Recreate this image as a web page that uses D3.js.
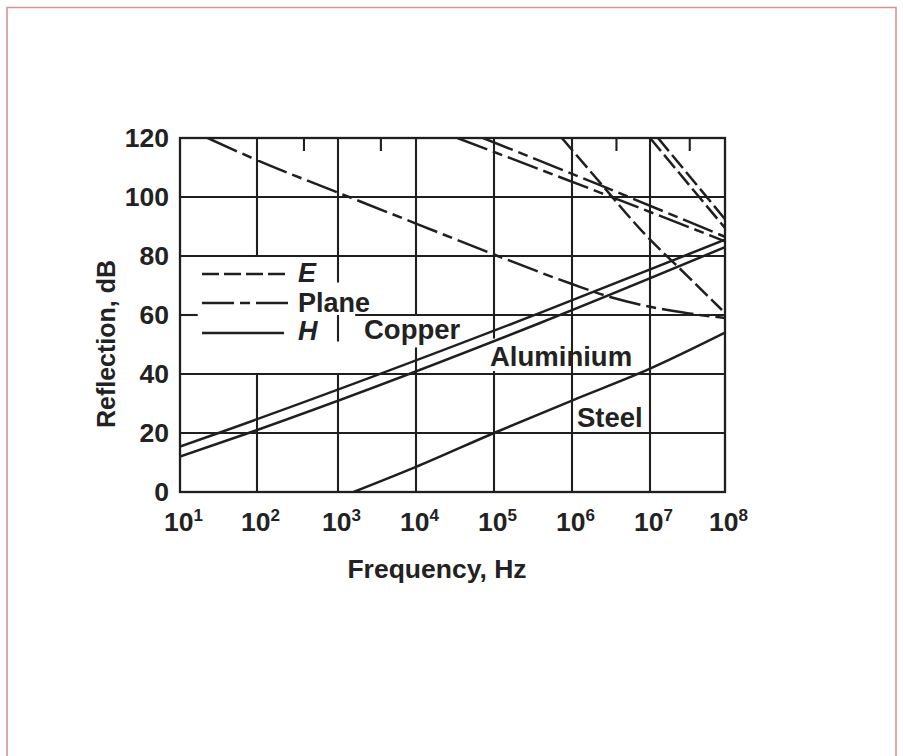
<!DOCTYPE html>
<html>
<head>
<meta charset="utf-8">
<script src="https://cdn.jsdelivr.net/npm/d3@7"></script>
<style>
  body { margin: 0; background: #fff; }
  text { font-family: "Liberation Sans", Arial, sans-serif; font-weight: bold; fill: #222; }
</style>
</head>
<body>
<div class="chart"></div>
<script>
var width = 903, height = 756;

// x = log10(frequency, Hz), y = reflection, dB
var decades = [1, 2, 3, 4, 5, 6, 7, 8];
var dbTicks = [0, 20, 40, 60, 80, 100, 120];
var topTicks = [2.58, 3.55, 6.57, 7.53];

// H (magnetic) field, solid
var copperH = [[1, 15.4], [1.51, 20.1], [5.59, 60.7], [8, 85.5]];
var aluminiumH = [[1, 12], [1.9, 20.1], [5.59, 57.3], [8, 83]];
var steelH = [[3.2, 0], [4, 8.5], [5, 20], [6, 31], [7, 41.8], [8, 54]];

// plane wave
var copperPlane = [[4.86, 120], [6.36, 104], [8, 86.5]];
var aluminiumPlane = [[4.53, 120], [6.36, 101.5], [8, 85]];
var steelPlane = [[1.36, 120], [2, 112.5], [3, 101.5], [4, 91], [5, 80.5], [6, 70.5], [6.5, 66], [7, 62.8], [7.5, 60.6], [8, 59]];

// E (electric) field
var copperE = [[7.107, 120], [8, 92.5]];
var aluminiumE = [[7.0, 120], [8, 89.5]];
var steelE = [[5.87, 120], [6.32, 106.1], [6.91, 88.1], [7.5, 73.2], [7.96, 61.7]];

var metalLabels = ["Copper", "Aluminium", "Steel"];
var legendNames = ["E", "Plane", "H"];

var dash = { E: "17,5", Plane: "32,6,10,6", H: null };

var svg = d3.select(".chart").append("svg")
    .attr("width", width)
    .attr("height", height);

svg.append("rect").attr("width", width).attr("height", height).attr("fill", "#fff");

// page frame (open at the bottom)
svg.append("path")
    .attr("d", "M7,760 L7,7.5 L896,7.5 L896,760")
    .attr("fill", "none")
    .attr("stroke", "#d69494")
    .attr("stroke-width", 1.6);

var x = d3.scaleLinear().domain(decades).range([180, 257, 338, 416, 494, 572, 650, 725]);
var y = d3.scaleLinear().domain([0, 120]).range([492, 138]);

var ink = "#1f1f1f";

// grid, with the gaps left for the printed labels
var vGrid = [
  {at: 2, spans: [[80, 120], [0, 40]]},
  {at: 3, spans: [[71, 120], [51, 60], [0, 40]]},
  {at: 4, spans: [[60, 120], [0, 49]]},
  {at: 5, spans: [[52, 120], [0, 41]]},
  {at: 6, spans: [[0, 120]]},
  {at: 7, spans: [[0, 120]]}
];
var hGrid = [
  {at: 20, spans: [[1, 8]]},
  {at: 40, spans: [[1, 8]]},
  {at: 60, spans: [[1, 1.23], [3.22, 8]]},
  {at: 80, spans: [[1, 8]]},
  {at: 100, spans: [[1, 8]]}
];

var grid = svg.append("g").attr("stroke", ink).attr("stroke-width", 2.1);
vGrid.forEach(function(g) {
  g.spans.forEach(function(s) {
    grid.append("line")
      .attr("x1", x(g.at)).attr("x2", x(g.at))
      .attr("y1", y(s[0])).attr("y2", y(s[1]));
  });
});
hGrid.forEach(function(g) {
  g.spans.forEach(function(s) {
    grid.append("line")
      .attr("x1", x(s[0])).attr("x2", x(s[1]))
      .attr("y1", y(g.at)).attr("y2", y(g.at));
  });
});
grid.selectAll(".minor").data(topTicks).enter().append("line")
    .attr("x1", function(d) { return x(d); }).attr("x2", function(d) { return x(d); })
    .attr("y1", y(120)).attr("y2", y(120) + 13);

svg.append("rect")
    .attr("x", x(1)).attr("y", y(120))
    .attr("width", x(8) - x(1)).attr("height", y(0) - y(120))
    .attr("fill", "none").attr("stroke", ink).attr("stroke-width", 2.3);

// axes
var yAxis = svg.append("g")
    .attr("transform", "translate(" + x(1) + ",0)")
    .call(d3.axisLeft(y).tickValues(dbTicks).tickSize(0).tickPadding(11));
yAxis.select(".domain").remove();
yAxis.selectAll("text").attr("font-size", "26.5px").attr("fill", ink)
    .attr("font-family", "Liberation Sans, Arial, sans-serif");

var xAxis = svg.append("g")
    .attr("transform", "translate(0," + y(0) + ")")
    .call(d3.axisBottom(x).tickValues(decades).tickSize(0).tickPadding(20));
xAxis.select(".domain").remove();
xAxis.selectAll(".tick text")
    .attr("font-size", "26.5px").attr("fill", ink).attr("dx", 3)
    .attr("font-family", "Liberation Sans, Arial, sans-serif")
    .text("10")
    .append("tspan")
      .attr("dy", "-0.55em")
      .attr("font-size", "17px")
      .text(function(d) { return d; });

svg.append("text")
    .attr("x", 437).attr("y", 578)
    .attr("text-anchor", "middle")
    .attr("font-size", "26.5px")
    .text("Frequency, Hz");

svg.append("text")
    .attr("transform", "translate(115,344) rotate(-90)")
    .attr("text-anchor", "middle")
    .attr("font-size", "25px")
    .text("Reflection, dB");

// curves
svg.append("clipPath").attr("id", "plot")
  .append("rect")
    .attr("x", x(1)).attr("y", y(120))
    .attr("width", x(8) - x(1)).attr("height", y(0) - y(120));

var line = d3.line()
    .x(function(d) { return x(d[0]); })
    .y(function(d) { return y(d[1]); })
    .curve(d3.curveMonotoneX);

var curves = [
  {data: copperH, kind: "H"}, {data: aluminiumH, kind: "H"}, {data: steelH, kind: "H"},
  {data: copperPlane, kind: "Plane"}, {data: aluminiumPlane, kind: "Plane"}, {data: steelPlane, kind: "Plane"},
  {data: copperE, kind: "E"}, {data: aluminiumE, kind: "E"}, {data: steelE, kind: "E"}
];

svg.append("g").attr("clip-path", "url(#plot)")
  .selectAll("path").data(curves).enter().append("path")
    .attr("d", function(d) { return line(d.data); })
    .attr("fill", "none")
    .attr("stroke", ink)
    .attr("stroke-width", 2.5)
    .attr("stroke-dasharray", function(d) { return dash[d.kind]; });

// metal labels
var labelPos = [[364, 339], [490, 366], [577, 427]];
svg.selectAll(".metal").data(metalLabels).enter().append("text")
    .attr("x", function(d, i) { return labelPos[i][0]; })
    .attr("y", function(d, i) { return labelPos[i][1]; })
    .attr("font-size", "27.5px")
    .text(function(d) { return d; });

// legend
var legendY = [274, 303, 333];
var legendTextY = [282, 312, 340];
var legend = svg.append("g");
legend.selectAll("line").data(legendNames).enter().append("line")
    .attr("x1", 202)
    .attr("x2", function(d) { return d === "H" ? 284 : 290; })
    .attr("y1", function(d, i) { return legendY[i]; })
    .attr("y2", function(d, i) { return legendY[i]; })
    .attr("stroke", ink)
    .attr("stroke-width", 2.5)
    .attr("stroke-dasharray", function(d) { return dash[d]; });
legend.selectAll("text").data(legendNames).enter().append("text")
    .attr("x", 298)
    .attr("y", function(d, i) { return legendTextY[i]; })
    .attr("font-size", "27px")
    .attr("font-style", function(d) { return d === "Plane" ? "normal" : "italic"; })
    .text(function(d) { return d; });
</script>
</body>
</html>
